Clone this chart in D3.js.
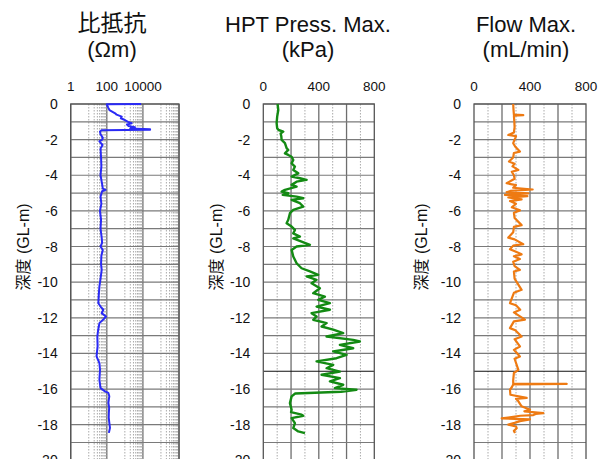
<!DOCTYPE html>
<html>
<head>
<meta charset="utf-8">
<style>
body { margin: 0; background: #fff; }
text { font-family: "Liberation Sans", Arial, "Noto Sans CJK JP", sans-serif; fill: #111; }
.title { font-size: 22px; }
.cjk { font-family: "Noto Sans CJK JP", sans-serif; font-size: 23px; }
.tick { font-size: 13.5px; }
.ytick { font-size: 14px; }
.ylab { font-size: 16px; font-family: "Liberation Sans", "Noto Sans CJK JP", sans-serif; }
</style>
</head>
<body>
<svg width="600" height="459"></svg>
<script src="https://d3js.org/d3.v7.min.js"></script>
<script>

// resistivity (Ohm-m) vs depth (m below GL)
var resDepth = [0, 0.02, 0.2, 0.34, 0.45, 0.52, 0.6, 0.71, 0.8, 0.9, 1.0, 1.08, 1.15, 1.23, 1.3, 1.38, 1.42, 1.45, 1.48,
  1.55, 1.7, 1.9, 2.0, 2.1, 2.3, 2.5, 3.0, 3.5, 4.0, 4.5, 4.75, 4.82, 4.9, 5.2, 5.6, 6.0, 6.5, 7.0, 7.5, 7.8, 8.0, 8.2,
  8.5, 9.0, 9.31, 9.8, 10.24, 10.7, 11.18, 11.37, 11.55, 11.74, 11.93, 12.1, 12.3, 12.7, 13.05, 13.6, 14.17, 14.54,
  14.92, 15.48, 15.95, 16.13, 16.22, 16.4, 16.77, 17.05, 17.33, 17.6, 17.9, 18.18, 18.46];
var resValue = [8000, 100, 120, 140, 220, 290, 350, 670, 600, 1000, 1500, 2400, 1300, 1600, 3600, 2000, 25000, 25000, 50,
  42, 45, 60, 55, 39, 58, 45, 48, 50, 45, 55, 60, 85, 55, 45, 50, 42, 48, 45, 52, 55, 45, 60,
  50, 48, 52, 45, 39, 36, 34, 45, 64, 52, 90, 64, 39, 33, 30, 31, 27, 39,
  42, 39, 45, 80, 122, 138, 122, 135, 130, 128, 138, 150, 130];

// HPT pressure max (kPa)
var hptDepth = [0, 0.34, 0.71, 1.08, 1.36, 1.46, 1.55, 1.65, 1.83, 2.02, 2.2, 2.48, 2.58, 2.77, 2.86, 2.96, 3.14, 3.33,
  3.51, 3.7, 3.89, 4.07, 4.17, 4.26, 4.36, 4.54, 4.64, 4.82, 4.92, 5.01, 5.1, 5.2, 5.29, 5.38, 5.57, 5.76, 5.94, 6.13,
  6.5, 6.69, 6.88, 7.07, 7.26, 7.44, 7.54, 7.72, 7.91, 8.0, 8.19, 8.56, 8.94, 9.22, 9.4, 9.59, 9.68, 9.87, 10.06,
  10.34, 10.62, 10.81, 10.99, 11.18, 11.37, 11.55, 11.74, 11.93, 12.11, 12.3, 12.49, 12.67, 12.86, 13.05, 13.24,
  13.33, 13.52, 13.71, 13.89, 14.08, 14.27, 14.45, 14.64, 14.83, 15.02, 15.2, 15.39, 15.57, 15.76, 15.95, 16.04,
  16.15, 16.25, 16.41, 16.79, 17.16, 17.3, 17.44, 17.5, 17.63, 17.91, 18.19, 18.38, 18.47];
var hptValue = [103, 108, 100, 96, 100, 110, 144, 125, 130, 132, 156, 168, 180, 156, 180, 204, 216, 204,
  228, 216, 252, 204, 264, 312, 240, 204, 240, 156, 132, 180, 140, 240, 288, 204, 264, 288, 216, 192,
  180, 168, 204, 228, 216, 264, 216, 276, 336, 240, 204, 216, 240, 276, 336, 396, 312, 384, 348,
  408, 360, 444, 396, 480, 384, 480, 348, 384, 360, 456, 420, 504, 576, 456, 648,
  696, 552, 648, 504, 600, 528, 384, 504, 456, 552, 420, 552, 480, 576, 516, 672,
  560, 230, 204, 192, 204, 200, 276, 288, 204, 228, 216, 252, 300];

// flow max (mL/min)
var flowDepth = [0, 0.3, 0.6, 0.63, 0.66, 1.0, 1.3, 1.6, 1.74, 1.8, 2.0, 2.2, 2.4, 2.67, 2.75, 3.0, 3.23, 3.35, 3.5,
  3.7, 3.8, 4.0, 4.2, 4.45, 4.55, 4.7, 4.8, 4.88, 4.95, 5.02, 5.1, 5.17, 5.25, 5.35, 5.45, 5.6, 5.8, 5.97, 6.1,
  6.4, 6.8, 6.9, 7.2, 7.5, 7.6, 7.87, 7.95, 8.15, 8.3, 8.44, 8.55, 8.7, 8.85, 9.1, 9.31, 9.4, 9.8, 10.43, 10.6,
  11.18, 11.3, 11.55, 11.7, 12.1, 12.2, 12.58, 12.7, 13.05, 13.2, 13.61, 13.8, 14.17, 14.3, 14.92, 15.1, 15.5,
  15.69, 15.71, 15.74, 15.9, 16.04, 16.32, 16.5, 16.55, 16.69, 16.97, 17.16, 17.25, 17.35, 17.4, 17.46, 17.5,
  17.65, 17.7, 17.8, 17.9, 18.0, 18.1, 18.2, 18.35, 18.47];
var flowValue = [280, 282, 285, 352, 285, 288, 290, 285, 245, 300, 290, 280, 295, 328, 285, 280, 250, 290, 275,
  317, 270, 285, 290, 233, 300, 280, 419, 260, 233, 388, 221, 381, 245, 340, 257, 300, 270, 328, 285,
  290, 340, 285, 280, 245, 290, 352, 280, 257, 300, 340, 285, 328, 280, 290, 328, 285, 290, 340, 285,
  257, 300, 330, 285, 364, 285, 257, 295, 340, 290, 328, 285, 328, 290, 317, 285, 280,
  280, 662, 280, 270, 257, 260, 376, 300, 317, 340, 400, 360, 495, 440, 424, 330,
  198, 400, 328, 290, 245, 300, 305, 285, 293];

var depthTicks = d3.range(0, -21, -2);
var linTicks = [0, 400, 800];
var logTicks = [1, 100, 10000];

var svg = d3.select("svg");

var y = d3.scaleLinear()
    .domain([0, -20])
    .range([104, 460.3]);

var xRes = d3.scaleLog().domain([1, 1e6]).range([70.7, 179]);
var xHpt = d3.scaleLinear().domain([0, 800]).range([263.3, 374.3]);
var xFlow = d3.scaleLinear().domain([0, 800]).range([474, 586]);

function drawPanel(opt) {
  var x = opt.x,
      g = svg.append("g"),
      x0 = x.range()[0], x1 = x.range()[1];

  // vertical grid
  opt.vlines.forEach(function(v) {
    g.append("line")
      .attr("x1", x(v.v)).attr("x2", x(v.v))
      .attr("y1", y(0)).attr("y2", y(-20))
      .attr("stroke", v.major ? "#6e6e6e" : "#aaaaaa")
      .attr("stroke-width", v.major ? 1.3 : 1)
      .attr("stroke-dasharray", v.major ? null : "1.5,1.5");
  });

  // horizontal grid every metre
  d3.range(0, 21).forEach(function(d) {
    g.append("line")
      .attr("x1", x0).attr("x2", x1)
      .attr("y1", y(-d)).attr("y2", y(-d))
      .attr("stroke", (d == 15 && opt.mark15) ? "#111" : "#7a7a7a")
      .attr("stroke-width", 1.2);
  });

  g.append("rect")
    .attr("x", x0).attr("y", y(0))
    .attr("width", x1 - x0).attr("height", y(-20) - y(0))
    .attr("fill", "none")
    .attr("stroke", "#555")
    .attr("stroke-width", 1.3);

  // top tick labels
  g.selectAll(".tick").data(opt.ticks).enter().append("text")
    .attr("class", "tick")
    .attr("x", function(d) { return x(d); })
    .attr("y", 91)
    .attr("text-anchor", "middle")
    .text(function(d) { return d; });

  // depth labels
  g.selectAll(".ytick").data(depthTicks).enter().append("text")
    .attr("class", "ytick")
    .attr("x", x0 - 13)
    .attr("y", function(d) { return y(d) + 5; })
    .attr("text-anchor", "end")
    .text(function(d) { return String(d); });

  g.append("text")
    .attr("class", "ylab")
    .attr("transform", "translate(" + opt.ylabX + ",247) rotate(-90)")
    .attr("text-anchor", "middle")
    .text("深度 (GL-m)");

  g.append("text")
    .attr("class", opt.cjk ? "cjk" : "title")
    .attr("x", opt.titleX).attr("y", opt.cjk ? 31 : 32)
    .attr("text-anchor", "middle")
    .text(opt.title);
  g.append("text")
    .attr("class", "title")
    .attr("x", opt.titleX).attr("y", 57)
    .attr("text-anchor", "middle")
    .text(opt.unit);

  var line = d3.line()
    .x(function(d, i) { return x(opt.values[i]); })
    .y(function(d) { return y(-d); });

  g.append("path")
    .datum(opt.depth)
    .attr("d", line)
    .attr("fill", "none")
    .attr("stroke", opt.color)
    .attr("stroke-width", opt.width)
    .attr("stroke-linejoin", "round");
}

var resLines = [];
[1, 100, 10000, 1e6].forEach(function(v) { resLines.push({v: v, major: true}); });
[10, 1000, 100000].forEach(function(p) {
  d3.range(1, 10).forEach(function(m) { resLines.push({v: m * p, major: false}); });
});

var linLines = d3.range(100, 800, 100).map(function(v) {
  return {v: v, major: v % 200 == 0};
});

drawPanel({x: xRes, vlines: resLines, ticks: logTicks, depth: resDepth, values: resValue,
  color: "#2a2af5", width: 2, title: "比抵抗", unit: "(Ωm)", cjk: true, titleX: 112, ylabX: 29});
drawPanel({x: xHpt, vlines: linLines, ticks: linTicks, depth: hptDepth, values: hptValue,
  color: "#138a13", width: 2.4, title: "HPT Press. Max.", unit: "(kPa)", titleX: 308, ylabX: 222, mark15: true});
drawPanel({x: xFlow, vlines: linLines, ticks: linTicks, depth: flowDepth, values: flowValue,
  color: "#ee7a12", width: 2.2, title: "Flow Max.", unit: "(mL/min)", titleX: 526, ylabX: 427, mark15: true});

</script>
</body>
</html>
